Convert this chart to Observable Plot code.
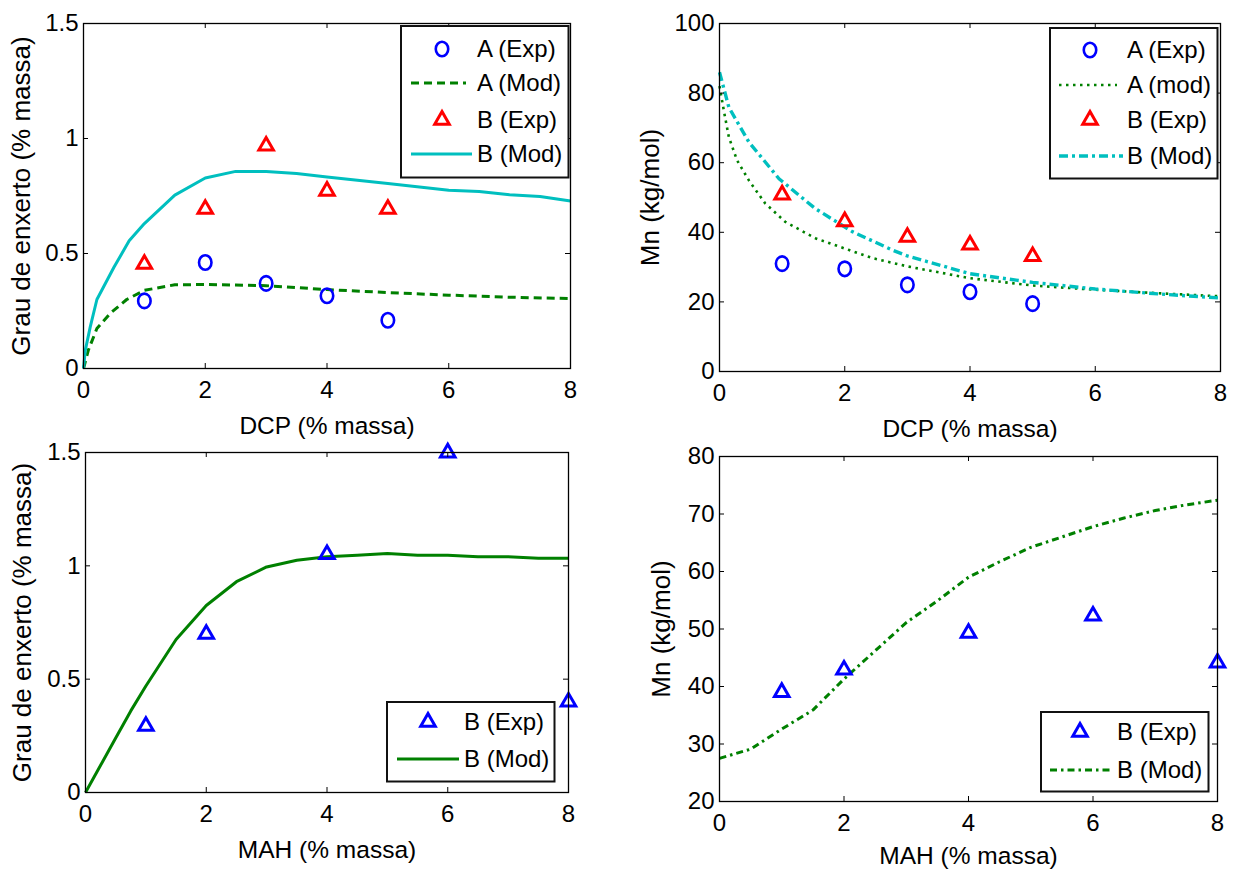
<!DOCTYPE html>
<html><head><meta charset="utf-8">
<script src="https://cdn.jsdelivr.net/npm/d3@7"></script>
<script src="https://cdn.jsdelivr.net/npm/@observablehq/plot@0.6"></script>
<style>
body{margin:0;background:#fff;}
#root{position:relative;width:1238px;height:869px;overflow:hidden;background:#fff;}
.panel{position:absolute;}
.legend{position:absolute;overflow:visible;}
</style></head><body><div id="root"></div>
<script>
// ---------- DATA ----------
// Panel 1: Grau de enxerto vs DCP
const dcpExp = [1, 2, 3, 4, 5];
const grauA_exp = [0.294, 0.461, 0.370, 0.316, 0.210];
const grauB_exp = [0.454, 0.693, 0.968, 0.772, 0.693];
const grauA_modX = [0, 0.08, 0.22, 0.44, 0.71, 1, 1.5, 2, 2.5, 3, 3.5, 4, 5, 6, 7, 8];
const grauA_modY = [0, 0.08, 0.174, 0.24, 0.30, 0.34, 0.364, 0.365, 0.363, 0.36, 0.352, 0.343, 0.33, 0.319, 0.31, 0.304];
const grauB_modX = [0, 0.03, 0.11, 0.22, 0.5, 0.75, 1, 1.5, 2, 2.5, 3, 3.5, 4, 5, 6, 6.5, 7, 7.5, 8];
const grauB_modY = [0, 0.08, 0.18, 0.30, 0.44, 0.555, 0.63, 0.754, 0.828, 0.857, 0.857, 0.848, 0.833, 0.804, 0.775, 0.77, 0.755, 0.748, 0.728];

// Panel 2: Mn vs DCP
const mnA_exp = [31.0, 29.5, 24.9, 22.9, 19.5];
const mnB_exp = [50.8, 43.1, 38.6, 36.4, 33.1];
const mnA_modX = [0, 0.07, 0.15, 0.28, 0.47, 0.73, 1.05, 1.53, 2.07, 2.44, 3, 4, 5, 6, 7, 8];
const mnA_modY = [82, 74.9, 67.3, 60.7, 54.9, 48.3, 43, 38.3, 34.9, 32.6, 30.2, 26.8, 24.7, 23.5, 22.5, 21.6];
const mnB_modX = [0, 0.15, 0.47, 0.95, 1.53, 2.12, 2.76, 3, 4, 5, 6, 7, 8];
const mnB_modY = [86, 75.9, 65.9, 55.4, 46.8, 40.2, 34.9, 33.2, 28.1, 25.6, 23.7, 22.3, 21.1];

// Panel 3: Grau de enxerto vs MAH
const mahExp = [1, 2, 4, 6, 8];
const grauMah_exp = [0.293, 0.699, 1.051, 1.499, 0.40];
const grauMah_modX = [0, 0.25, 0.5, 0.75, 1, 1.5, 2, 2.5, 3, 3.5, 4, 4.5, 5, 5.5, 6, 6.5, 7, 7.5, 8];
const grauMah_modY = [0, 0.12, 0.24, 0.36, 0.47, 0.675, 0.825, 0.93, 0.995, 1.025, 1.04, 1.047, 1.054, 1.047, 1.047, 1.04, 1.04, 1.034, 1.034];

// Panel 4: Mn vs MAH
const mnMah_exp = [39.0, 42.9, 49.3, 52.3, 44.1];
const mnMah_modX = [0, 0.5, 1, 1.5, 2, 2.5, 3, 3.5, 4, 4.5, 5, 5.5, 6, 6.5, 7, 7.5, 8];
const mnMah_modY = [27.5, 29.1, 32.6, 35.9, 41.3, 46.2, 51.1, 54.9, 59, 61.7, 64.2, 66, 67.8, 69.3, 70.6, 71.6, 72.4];

// Ticks
const xTicks = [0, 2, 4, 6, 8];
const yTicksGrau = [0, 0.5, 1, 1.5];
const yTicksMnDcp = [0, 20, 40, 60, 80, 100];
const yTicksMnMah = [20, 30, 40, 50, 60, 70, 80];

// Labels
const labelDCP = "DCP (% massa)";
const labelMAH = "MAH (% massa)";
const labelGrau = "Grau de enxerto (% massa)";
const labelMn = "Mn (kg/mol)";

// ---------- STYLE ----------
const FONT = '"Liberation Sans", Arial, Helvetica, sans-serif';
const BLUE = "#0000ff", RED = "#ff0000", GREEN = "#008000", CYAN = "#00bfbf";

const pts = (xs, ys) => xs.map((x, i) => ({x, y: ys[i]}));

// ellipse symbol (slightly tall circle, like the reference)
const ellipse = {
  draw(ctx, size) {
    const r = Math.sqrt(size / Math.PI), rx = r * 0.86, ry = r, k = 0.5523;
    ctx.moveTo(rx, 0);
    ctx.bezierCurveTo(rx, ry * k, rx * k, ry, 0, ry);
    ctx.bezierCurveTo(-rx * k, ry, -rx, ry * k, -rx, 0);
    ctx.bezierCurveTo(-rx, -ry * k, -rx * k, -ry, 0, -ry);
    ctx.bezierCurveTo(rx * k, -ry, rx, -ry * k, rx, 0);
    ctx.closePath();
  }
};
const circ = (xs, ys, color) => Plot.dot(pts(xs, ys), {x: "x", y: "y", symbol: ellipse, r: 7.25, stroke: color, strokeWidth: 2.6, fill: "none"});
const tri = (xs, ys, color) => Plot.dot(pts(xs, ys), {x: "x", y: "y", symbol: "triangle", r: 5.4, stroke: color, strokeWidth: 3, fill: "none", strokeLinejoin: "miter"});
const line = (xs, ys, color, dash, w) => Plot.line(pts(xs, ys), {x: "x", y: "y", stroke: color, strokeWidth: w, strokeDasharray: dash, strokeLinecap: "butt", strokeLinejoin: "round"});

const root = document.getElementById("root");

function panel(o) {
  const fw = o.width - o.mL - o.mR, fh = o.height - o.mT - o.mB;
  const chart = Plot.plot({
    width: o.width, height: o.height,
    marginLeft: o.mL, marginRight: o.mR, marginTop: o.mT, marginBottom: o.mB,
    x: {domain: o.xDomain}, y: {domain: o.yDomain},
    style: {fontFamily: FONT, fontSize: "24px", color: "#000", background: "transparent", overflow: "visible"},
    marks: [
      ...o.marks,
      Plot.frame({stroke: "#000", strokeWidth: 1.3}),
      Plot.tickX(o.xTicks, {x: d => d, insetTop: fh - 5, stroke: "#000", strokeWidth: 1}),
      Plot.tickX(o.xTicks, {x: d => d, insetBottom: fh - 5, stroke: "#000", strokeWidth: 1}),
      Plot.tickY(o.yTicks, {y: d => d, insetRight: fw - 5, stroke: "#000", strokeWidth: 1}),
      Plot.tickY(o.yTicks, {y: d => d, insetLeft: fw - 5, stroke: "#000", strokeWidth: 1}),
      Plot.axisX({ticks: o.xTicks, tickSize: 0, tickPadding: 12, tickFormat: d => String(d), label: null, fontSize: 24}),
      Plot.axisY({ticks: o.yTicks, tickSize: 0, tickPadding: 5, tickFormat: d => String(d), label: null, fontSize: 24}),
      Plot.axisX({ticks: [], label: o.xLabel, labelAnchor: "center", labelOffset: o.xLabelOffset, fontSize: 24.5, labelArrow: "none"}),
      Plot.axisY({ticks: [], label: o.yLabel, labelAnchor: "center", labelOffset: o.yLabelOffset, fontSize: 26, labelArrow: "none"})
    ]
  });
  const div = document.createElement("div");
  div.className = "panel";
  div.style.left = o.left + "px";
  div.style.top = o.top + "px";
  div.appendChild(chart);
  root.appendChild(div);
}

function legend(box, rows) {
  const svg = d3.create("svg")
    .attr("class", "legend")
    .attr("width", box.w).attr("height", box.h)
    .style("left", box.x + "px").style("top", box.y + "px");
  svg.append("rect").attr("x", 1).attr("y", 1).attr("width", box.w - 2.5).attr("height", box.h - 2.5)
    .attr("fill", "#fff").attr("stroke", "#111").attr("stroke-width", 2);
  for (const r of rows) {
    if (r.kind === "line") {
      svg.append("line").attr("x1", r.x1).attr("x2", r.x2).attr("y1", r.y).attr("y2", r.y)
        .attr("stroke", r.color).attr("stroke-width", r.width).attr("stroke-dasharray", r.dash || null);
    } else {
      const sym = r.kind === "circle" ? ellipse : d3.symbolTriangle;
      const rr = r.kind === "circle" ? 7.25 : 5.4;
      svg.append("path").attr("d", d3.symbol(sym, Math.PI * rr * rr)())
        .attr("transform", `translate(${r.sx},${r.y})`)
        .attr("fill", "none").attr("stroke", r.color).attr("stroke-width", r.kind === "circle" ? 2.6 : 3);
    }
    svg.append("text").attr("x", r.tx).attr("y", r.y).attr("dy", "0.35em")
      .attr("font-family", FONT).attr("font-size", 24).attr("fill", "#000").text(r.text);
  }
  root.appendChild(svg.node());
}

// ---------- PANEL 1 ----------
panel({
  left: 0, top: 0, width: 619, height: 440, mL: 83, mR: 49, mT: 23, mB: 72,
  xDomain: [0, 8], yDomain: [0, 1.5], xTicks, yTicks: yTicksGrau,
  xLabel: labelDCP, yLabel: labelGrau, xLabelOffset: 65, yLabelOffset: 72,
  marks: [
    line(grauA_modX, grauA_modY, GREEN, "8,5", 3),
    line(grauB_modX, grauB_modY, CYAN, null, 3),
    circ(dcpExp, grauA_exp, BLUE),
    tri(dcpExp, grauB_exp, RED)
  ]
});
legend({x: 400, y: 25, w: 170, h: 154}, [
  {kind: "circle", sx: 42, y: 24, color: BLUE, tx: 77, text: "A (Exp)"},
  {kind: "line", x1: 11, x2: 66, y: 58, color: GREEN, width: 3, dash: "8,5", tx: 77, text: "A (Mod)"},
  {kind: "tri", sx: 42, y: 95, color: RED, tx: 77, text: "B (Exp)"},
  {kind: "line", x1: 11, x2: 72, y: 129, color: CYAN, width: 3, tx: 77, text: "B (Mod)"}
]);

// ---------- PANEL 2 ----------
panel({
  left: 619, top: 0, width: 619, height: 440, mL: 100, mR: 18, mT: 23, mB: 69,
  xDomain: [0, 8], yDomain: [0, 100], xTicks, yTicks: yTicksMnDcp,
  xLabel: labelDCP, yLabel: labelMn, xLabelOffset: 65, yLabelOffset: 79,
  marks: [
    line(mnA_modX, mnA_modY, GREEN, "2.5,4.5", 2.6),
    line(mnB_modX, mnB_modY, CYAN, "9,4,3,4", 3.4),
    circ(dcpExp, mnA_exp, BLUE),
    tri(dcpExp, mnB_exp, RED)
  ]
});
legend({x: 1049, y: 27, w: 170, h: 153}, [
  {kind: "circle", sx: 41, y: 23, color: BLUE, tx: 78, text: "A (Exp)"},
  {kind: "line", x1: 10, x2: 68, y: 58, color: GREEN, width: 2.6, dash: "2.5,4.5", tx: 78, text: "A (mod)"},
  {kind: "tri", sx: 41, y: 93, color: RED, tx: 78, text: "B (Exp)"},
  {kind: "line", x1: 10, x2: 74, y: 129, color: CYAN, width: 3.4, dash: "9,4,3,4", tx: 78, text: "B (Mod)"}
]);

// ---------- PANEL 3 ----------
panel({
  left: 0, top: 430, width: 619, height: 439, mL: 85, mR: 51, mT: 22, mB: 77,
  xDomain: [0, 8], yDomain: [0, 1.5], xTicks, yTicks: yTicksGrau,
  xLabel: labelMAH, yLabel: labelGrau, xLabelOffset: 65, yLabelOffset: 73,
  marks: [
    line(grauMah_modX, grauMah_modY, GREEN, null, 3),
    tri(mahExp, grauMah_exp, BLUE)
  ]
});
legend({x: 386, y: 701, w: 170, h: 82}, [
  {kind: "tri", sx: 42, y: 21, color: BLUE, tx: 78, text: "B (Exp)"},
  {kind: "line", x1: 11, x2: 73, y: 58, color: GREEN, width: 3, tx: 78, text: "B (Mod)"}
]);

// ---------- PANEL 4 ----------
panel({
  left: 619, top: 430, width: 619, height: 439, mL: 100, mR: 21, mT: 26, mB: 68,
  xDomain: [0, 8], yDomain: [20, 80], xTicks, yTicks: yTicksMnMah,
  xLabel: labelMAH, yLabel: labelMn, xLabelOffset: 62, yLabelOffset: 68,
  marks: [
    line(mnMah_modX, mnMah_modY, GREEN, "7,4,2.5,4", 3),
    tri(mahExp, mnMah_exp, BLUE)
  ]
});
legend({x: 1040, y: 711, w: 170, h: 82}, [
  {kind: "tri", sx: 40, y: 21, color: BLUE, tx: 77, text: "B (Exp)"},
  {kind: "line", x1: 10, x2: 72, y: 59, color: GREEN, width: 3, dash: "7,4,2.5,4", tx: 77, text: "B (Mod)"}
]);
</script>
</body></html>
